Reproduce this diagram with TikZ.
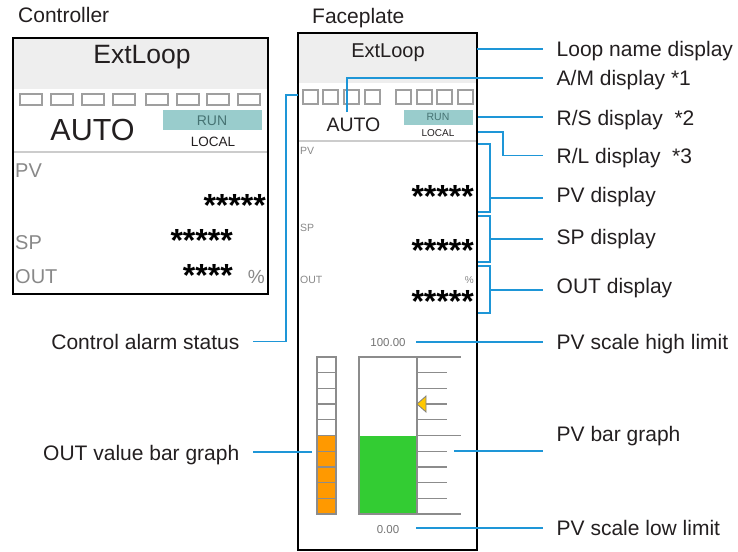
\documentclass[tikz,border=0pt]{standalone}
\usepackage{fontspec}
\setmainfont{Liberation Sans}
\usetikzlibrary{calc}

\definecolor{callblue}{RGB}{30,150,215}
\definecolor{hdrgrey}{RGB}{238,238,238}
\definecolor{runteal}{RGB}{153,204,204}
\definecolor{runtext}{RGB}{70,115,115}
\definecolor{lblgrey}{RGB}{136,136,136}
\definecolor{bargrey}{RGB}{140,140,140}
\definecolor{outorange}{RGB}{255,153,0}
\definecolor{pvgreen}{RGB}{51,204,51}
\definecolor{ptryellow}{RGB}{255,200,0}
\definecolor{txtdark}{RGB}{35,31,32}

\newcommand{\fsz}[1]{\fontsize{#1}{#1}\selectfont}

\tikzset{
  sz/.style={inner sep=0pt, font=\fsz{#1}, text height={0.716*#1pt}, text depth=0pt, text=txtdark},
  sz/.default=21,
  lbl/.style={sz=21, inner xsep=13.5pt},
  callout/.style={draw=callblue, line width=1.2pt},
  lamp/.style={draw=gray!75, line width=1.3pt, fill=white},
  panel/.style={draw=black, line width=1.2pt},
  divider/.style={draw=gray!40, line width=1.2pt},
  barline/.style={draw=bargrey, line width=1.3pt},
  stars/.style={inner sep=0pt, font=\bfseries\fsz{#1}, text=black},
}

\begin{document}
\begin{tikzpicture}[x=1pt, y=-1pt]
  \useasboundingbox (0,0) rectangle (738,551);

  % Titles
  \node[sz, anchor=west] (t-ctrl) at (18,15) {Controller};
  \node[sz, anchor=west] (t-face) at (312,15.5) {Faceplate};

  % Controller panel
  \fill[hdrgrey] (13,38) rectangle (268,89);
  \foreach \x in {20,51,82,113,146,177,207,238}
    \draw[lamp] (\x,94) rectangle +(22,11);
  \fill[runteal] (163,110) rectangle (262,130);
  \draw[divider] (13,152) -- (268,152);
  \draw[panel] (13,38) rectangle (268,294);
  \node[sz=26.5] (c-name) at (142,54) {ExtLoop};
  \node[sz=30.5] (c-auto) at (92.5,130) {AUTO};
  \node[sz=14, text=runtext] (c-run) at (212,120) {RUN};
  \node[sz=13.5] (c-local) at (213,141.5) {LOCAL};
  \node[sz=20, text=lblgrey, anchor=west] (c-pv) at (15,170.5) {PV};
  \node[sz=20, text=lblgrey, anchor=west] (c-sp) at (15,242.5) {SP};
  \node[sz=20, text=lblgrey, anchor=west] (c-out) at (15,276) {OUT};
  \node[sz=19, text=lblgrey, anchor=east] (c-pct) at (265,277) {\%};
  \node[stars=32, anchor=base east] (c-pvval) at (266,216.5) {*****};
  \node[stars=32, anchor=base east] (c-spval) at (233,251.5) {*****};
  \node[stars=32, anchor=base east] (c-outval) at (233,286.5) {****};

  % Faceplate panel
  \fill[hdrgrey] (298,33) rectangle (477,83);
  \foreach \x in {303,323,344,365,396,417,437,458}
    \draw[lamp] (\x,90) rectangle +(15,14);
  \fill[runteal] (404,110) rectangle (473,125);
  \draw[divider] (298,141) -- (477,141);
  \draw[panel] (298,33) rectangle (477,550);
  \node[sz=20] (f-name) at (388,50.5) {ExtLoop};
  \node[sz=19.5] (f-auto) at (353.5,124.5) {AUTO};
  \node[sz=10.5, text=runtext] (f-run) at (438,117) {RUN};
  \node[sz=10] (f-local) at (438,132.5) {LOCAL};
  \node[sz=10.5, text=lblgrey, anchor=west] (f-pv) at (300,150.5) {PV};
  \node[sz=10.5, text=lblgrey, anchor=west] (f-sp) at (300,228) {SP};
  \node[sz=10.5, text=lblgrey, anchor=west] (f-out) at (300,279.5) {OUT};
  \node[sz=10, text=lblgrey, anchor=east] (f-pct) at (474,280) {\%};
  \node[stars=32, anchor=base east] (f-pvval) at (474,207.5) {*****};
  \node[stars=32, anchor=base east] (f-spval) at (474,261.5) {*****};
  \node[stars=32, anchor=base east] (f-outval) at (474,312.5) {*****};
  \node[sz=11.5, text=gray!90!black] (f-high) at (388,342) {100.00};
  \node[sz=11.5, text=gray!90!black] (f-low) at (388,529) {0.00};

  % OUT bar graph
  \foreach \k in {0,...,4}
    \draw[barline, fill=white] (317,{357+\k*15.7}) rectangle +(19,15.7);
  \foreach \k in {5,...,9}
    \draw[barline, fill=outorange] (317,{357+\k*15.7}) rectangle +(19,15.7);

  % PV bar graph and scale
  \fill[pvgreen] (359,435.5) rectangle (417,514);
  \draw[barline] (359,357) rectangle (417,514);
  \foreach \k/\len in {0/44,1/30,2/30,3/30,4/30,5/44,6/30,7/30,8/30,9/30,10/44}
    \draw[barline] (417,{357+\k*15.7}) -- ++(\len,0);
  \draw[draw=gray, fill=ptryellow, line width=0.8pt] (417,404) -- (426,396) -- (426,412) -- cycle;

  % Callout labels
  \node[lbl, anchor=west] (l-name) at (543,48.5) {Loop name display};
  \node[lbl, anchor=west] (l-am) at (543,78) {A/M display *1};
  \node[lbl, anchor=west] (l-rs) at (543,117.5) {R/S display\ \ *2};
  \node[lbl, anchor=west] (l-rl) at (543,155.5) {R/L display\ \ *3};
  \node[lbl, anchor=west] (l-pv) at (543,195) {PV display};
  \node[lbl, anchor=west] (l-sp) at (543,236.5) {SP display};
  \node[lbl, anchor=west] (l-out) at (543,286) {OUT display};
  \node[lbl, anchor=west] (l-high) at (543,341.5) {PV scale high limit};
  \node[lbl, anchor=west] (l-bar) at (543,433.5) {PV bar graph};
  \node[lbl, anchor=west] (l-low) at (543,527.5) {PV scale low limit};
  \node[lbl, anchor=east] (l-alarm) at (253,341.5) {Control alarm status};
  \node[lbl, anchor=east] (l-outbar) at (253,453) {OUT value bar graph};

  % Callout connectors
  \coordinate (p-name) at (477,49);
  \coordinate (p-am) at (347,112);
  \coordinate (p-rs) at (478,117);
  \coordinate (p-rl) at (478,132);
  \coordinate (p-pv) at (490,198);
  \coordinate (p-sp) at (490,239);
  \coordinate (p-out) at (490,290);
  \coordinate (p-high) at (416,342);
  \coordinate (p-bar) at (454,451);
  \coordinate (p-low) at (416,528);
  \coordinate (p-alarm) at (298,95);
  \coordinate (p-outbar) at (312,452);

  \draw[callout] (p-name) -- (p-name -| l-name.west);
  \draw[callout] (p-am) |- (l-am.west);
  \draw[callout] (p-rs) -- (p-rs -| l-rs.west);
  \draw[callout] (p-rl) -- ++(25,0) |- (l-rl.west);
  \draw[callout] (478,144) -| (p-pv) |- (478,212);
  \draw[callout] (478,216) -| (p-sp) |- (478,262);
  \draw[callout] (478,266) -| (p-out) |- (478,313);
  \draw[callout] (p-pv) -- (p-pv -| l-pv.west);
  \draw[callout] (p-sp) -- (p-sp -| l-sp.west);
  \draw[callout] (p-out) -- (p-out -| l-out.west);
  \draw[callout] (p-high) -- (p-high -| l-high.west);
  \draw[callout] (p-bar) -- (p-bar -| l-bar.west);
  \draw[callout] (p-low) -- (p-low -| l-low.west);
  \draw[callout] (p-alarm) -- ++(-12,0) |- (l-alarm.east);
  \draw[callout] (p-outbar) -- (p-outbar -| l-outbar.east);
\end{tikzpicture}
\end{document}
